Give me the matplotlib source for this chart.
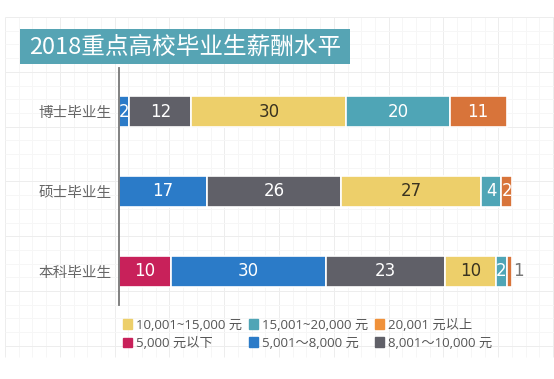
import numpy as np
import matplotlib
matplotlib.use("Agg")
import matplotlib.pyplot as plt
from matplotlib.patches import Rectangle

plt.rcParams['font.family'] = ['Noto Sans CJK SC', 'DejaVu Sans']

# data
groups = ["本科毕业生", "硕士毕业生", "博士毕业生"]
brackets = ["5,000 元以下", "5,001～8,000 元", "8,001～10,000 元",
            "10,001~15,000 元", "15,001~20,000 元", "20,001 元以上"]
values = {
    "5,000 元以下":     [10, 0, 0],
    "5,001～8,000 元":  [30, 17, 2],
    "8,001～10,000 元": [23, 26, 12],
    "10,001~15,000 元": [10, 27, 30],
    "15,001~20,000 元": [2, 4, 20],
    "20,001 元以上":    [1, 2, 11],
}
colors = ["#C8215A", "#2B7BC8", "#606068", "#EDCF6A", "#4FA5B6", "#D8743A"]
legend_colors = ["#C8215A", "#2B7BC8", "#606068", "#EDCF6A", "#4FA5B6", "#F0913A"]
title = "2018重点高校毕业生薪酬水平"

W, H = 554, 379
fig = plt.figure(figsize=(W / 100, H / 100), dpi=100)
fig.patch.set_facecolor("white")

# faint graph-paper background
bg = fig.add_axes([0, 0, 1, 1], zorder=-5)
bg.set_xlim(0, W)
bg.set_ylim(H, 0)
bg.axis("off")
step = 13.7
xs = np.arange(5, W, step)
ys = np.arange(17, 358, step)
for i, x in enumerate(xs):
    bg.vlines(x, 17, 357, color="#EDEDED" if i % 4 == 0 else "#F6F6F6", lw=0.7, zorder=1)
for i, y in enumerate(ys):
    bg.hlines(y, 5, W, color="#EDEDED" if i % 4 == 0 else "#F6F6F6", lw=0.7, zorder=1)

# title box
bg.add_patch(Rectangle((20, 29), 330, 35, facecolor="#56A4B4", edgecolor="none", zorder=3))
bg.text(185, 47, title, color="white", fontsize=17, ha="center", va="center", zorder=4)

# main axes
left_px, right_px, top_px, bot_px = 119, 519, 68, 305
ax = fig.add_axes([left_px / W, 1 - bot_px / H, (right_px - left_px) / W, (bot_px - top_px) / H])
ax.set_facecolor("none")
ax.set_xlim(0, 77.4)
ax.set_ylim(-0.425, 2.55)

ypos = np.arange(len(groups))
lefts = np.zeros(len(groups))
for b, c in zip(brackets, colors):
    v = np.array(values[b], dtype=float)
    ax.barh(ypos, v, left=lefts, height=0.39, color=c, edgecolor="white", linewidth=1.2)
    for y, l, val in zip(ypos, lefts, v):
        if val <= 0:
            continue
        if val < 2:
            ax.text(l + val + 0.3, y, f"{int(val)}", ha="left", va="center",
                    fontsize=12, color="#777777", family="DejaVu Sans")
        else:
            tc = "#3A3320" if c == "#EDCF6A" else "white"
            ax.text(l + val / 2, y, f"{int(val)}", ha="center", va="center",
                    fontsize=12, color=tc, family="DejaVu Sans")
    lefts += v

ax.set_yticks(ypos)
ax.set_yticklabels(groups, fontsize=10.5, color="#666666")
ax.tick_params(axis="y", length=0, pad=5)
ax.set_xticks([])
for s in ["top", "right", "bottom"]:
    ax.spines[s].set_visible(False)
ax.spines["left"].set_color("#777777")
ax.spines["left"].set_linewidth(1.3)

# legend: row 1 = top three brackets, row 2 = bottom three
order = [3, 0, 4, 1, 5, 2]
handles = [Rectangle((0, 0), 1, 1, color=legend_colors[i]) for i in order]
labels = [brackets[i] for i in order]
leg = fig.legend(handles, labels, ncol=3, loc="upper left",
                 bbox_to_anchor=(116 / W, 1 - 312 / H), frameon=False,
                 prop={"family": ["Open Sans", "Noto Sans CJK SC"], "size": 9.5},
                 handlelength=0.75, handleheight=0.75, handletextpad=0.3,
                 columnspacing=0.45, labelspacing=0.4, borderpad=0)
for t in leg.get_texts():
    t.set_color("#555555")

fig.savefig("out.png", dpi=100)
